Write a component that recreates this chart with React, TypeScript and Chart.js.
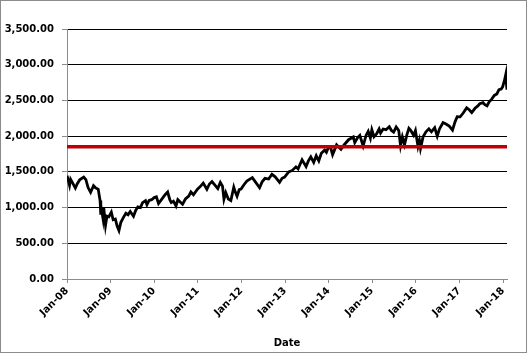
import React, { useEffect, useRef } from "react";
import { Chart, registerables } from "chart.js";
Chart.register(...registerables);

// months since Jan 2008
const monthIndex: number[] = [
  0, 0.3, 0.7, 1.0, 1.5, 2.3, 2.8, 3.5, 4.6, 5.2, 5.8, 6.5, 7.3, 7.8, 8.6, 8.9, 9.1, 9.3, 9.4, 9.9, 10.1, 10.6, 11.0, 11.5, 12.2, 12.7, 13.3, 13.8, 14.3, 14.8, 15.5, 16.2, 16.8, 17.4, 18.3, 18.9, 19.5, 20.2, 20.8, 21.6, 22.0, 22.6, 23.3, 24.0, 24.6, 25.2, 26.0, 27.0, 27.7, 28.3, 28.7, 29.3, 30.0, 30.5, 31.3, 31.8, 32.6, 33.5, 34.1, 34.8, 35.9, 36.6, 37.5, 38.5, 39.2, 39.9, 40.6, 41.5, 42.2, 42.8, 43.2, 43.7, 44.4, 45.1, 45.9, 46.3, 46.8, 47.4, 47.9, 48.7, 49.5, 51.0, 51.7, 53.0, 53.7, 54.5, 55.5, 56.4, 57.3, 58.5, 59.2, 59.9, 61.0, 62.0, 63.0, 63.6, 64.7, 65.8, 66.4, 67.1, 67.9, 68.6, 69.3, 70.0, 70.9, 71.4, 72.0, 72.5, 73.1, 74.2, 75.4, 76.3, 77.5, 78.8, 79.2, 80.0, 80.6, 81.5, 82.3, 82.9, 83.5, 83.9, 84.5, 85.2, 85.9, 86.3, 87.0, 87.8, 88.7, 89.3, 89.9, 90.6, 91.3, 91.8, 92.3, 92.9, 93.5, 94.1, 94.6, 95.4, 95.9, 96.6, 97.0, 97.3, 98.0, 98.8, 99.6, 100.3, 101.2, 101.9, 102.5, 103.5, 104.3, 105.2, 106.1, 106.8, 107.4, 108.2, 109.0, 110.0, 110.7, 111.4, 112.3, 113.0, 113.6, 114.5, 115.0, 115.6, 116.2, 116.9, 117.6, 118.3, 118.9, 119.5, 119.9, 120.4, 120.8, 121.0, 121.1,
];
const closeValues: number[] = [
  1447, 1390, 1310, 1395, 1350, 1273, 1330, 1390, 1426, 1390, 1280, 1214, 1305, 1280, 1255, 1160, 1100, 899, 1003, 848, 1005, 752, 880, 870, 935, 830, 840, 740, 677, 790, 860, 920, 900, 946, 879, 960, 1010, 1000, 1070, 1098, 1040, 1100, 1110, 1140, 1150, 1056, 1110, 1180, 1217, 1110, 1070, 1090, 1022, 1110, 1070, 1047, 1120, 1160, 1220, 1180, 1258, 1290, 1343, 1256, 1330, 1364, 1320, 1265, 1353, 1300, 1119, 1210, 1120, 1099, 1285, 1220, 1159, 1250, 1258, 1320, 1370, 1419, 1370, 1278, 1360, 1410, 1400, 1466, 1430, 1353, 1410, 1426, 1498, 1520, 1570, 1541, 1669, 1573, 1650, 1709, 1633, 1725, 1655, 1760, 1806, 1775, 1848, 1848, 1741, 1878, 1815, 1880, 1950, 1988, 1909, 1980, 2011, 1862, 2010, 2068, 1972, 2090, 1992, 2030, 2100, 2044, 2100, 2090, 2131, 2080, 2057, 2128, 2080, 1867, 1990, 1881, 2010, 2109, 2080, 2012, 2078, 1859, 1940, 1829, 1990, 2060, 2102, 2060, 2119, 2000, 2100, 2190, 2170, 2140, 2085, 2200, 2271, 2270, 2320, 2396, 2370, 2329, 2390, 2420, 2453, 2470, 2440, 2425, 2480, 2519, 2570, 2590, 2650, 2660, 2690, 2780, 2873, 2700, 2650,
];
const thresholdValue = 1850;
const yearTickLabels: string[] = ["Jan-08", "Jan-09", "Jan-10", "Jan-11", "Jan-12", "Jan-13", "Jan-14", "Jan-15", "Jan-16", "Jan-17", "Jan-18"];

const FONT = "'DejaVu Sans', sans-serif";

export default function App() {
  const ref = useRef<HTMLCanvasElement>(null);
  useEffect(() => {
    document.body.style.margin = "0";
    const xMax = monthIndex[monthIndex.length - 1];
    const border = {
      id: "border",
      afterDraw(chart: any) {
        const ctx = chart.ctx;
        ctx.save();
        ctx.strokeStyle = "#8c8c8c";
        ctx.lineWidth = 1;
        ctx.strokeRect(0.5, 0.5, 526, 352);
        ctx.restore();
      },
    };
    const chart = new Chart(ref.current!, {
      type: "line",
      data: {
        datasets: [
          {
            data: monthIndex.map((m, i) => ({ x: m, y: closeValues[i] })),
            borderColor: "#000000",
            borderWidth: 2.8,
            pointRadius: 0,
            tension: 0,
            order: 2,
          },
          {
            data: [
              { x: 0, y: thresholdValue },
              { x: xMax, y: thresholdValue },
            ],
            borderColor: "#c00000",
            borderWidth: 3.5,
            pointRadius: 0,
            order: 1,
          },
        ],
      },
      options: {
        responsive: false,
        animation: false,
        layout: { padding: { left: 0, top: 29, right: 21, bottom: 1 } },
        plugins: { legend: { display: false }, tooltip: { enabled: false } },
        scales: {
          x: {
            type: "linear",
            min: 0,
            max: xMax,
            afterBuildTicks(scale: any) {
              scale.ticks = yearTickLabels.map((_, i) => ({ value: i * 12 }));
            },
            afterFit(scale: any) {
              scale.height = 354 - 1 - 279;
            },
            ticks: {
              autoSkip: false,
              maxRotation: 45,
              minRotation: 45,
              padding: 2,
              color: "#000",
              font: { family: FONT, size: 10, weight: "bold" },
              callback: (v: any) => yearTickLabels[Math.round(Number(v) / 12)] ?? "",
            },
            grid: { drawOnChartArea: false, drawTicks: true, tickLength: 4, tickColor: "#8c8c8c" },
            border: { color: "#8c8c8c", width: 1 },
            title: {
              display: true,
              text: "Date",
              color: "#000",
              font: { family: FONT, size: 10, weight: "bold" },
              padding: { top: 4, bottom: 4 },
            },
          },
          y: {
            min: 0,
            max: 3500,
            afterFit(scale: any) {
              scale.width = 67;
            },
            ticks: {
              stepSize: 500,
              padding: 8,
              color: "#000",
              font: { family: FONT, size: 10, weight: "bold" },
              callback: (v: any) =>
                Number(v).toLocaleString("en-US", { minimumFractionDigits: 2, maximumFractionDigits: 2 }),
            },
            grid: {
              color: (c: any) => (c.tick && c.tick.value === 0 ? "#8c8c8c" : "#000000"),
              lineWidth: 1,
              tickLength: 5,
              tickColor: "#8c8c8c",
            },
            border: { color: "#8c8c8c", width: 1 },
          },
        },
      },
      plugins: [border],
    } as any);
    return () => chart.destroy();
  }, []);
  return <canvas ref={ref} width={528} height={354} style={{ display: "block" }} />;
}
